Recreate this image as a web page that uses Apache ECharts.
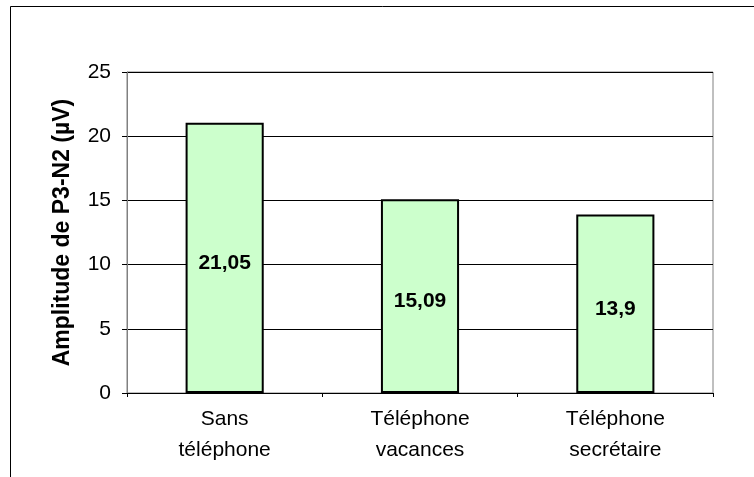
<!DOCTYPE html>
<html><head><meta charset="utf-8">
<script src="https://cdn.jsdelivr.net/npm/echarts@6/dist/echarts.min.js"></script>
<style>html,body{margin:0;padding:0;background:#fff}#c{width:754px;height:477px}</style>
</head><body><div id="c"></div>
<script>
const categories = ['Sans\ntéléphone', 'Téléphone\nvacances', 'Téléphone\nsecrétaire'];
const values = [21.05, 15.09, 13.9];
const yTicks = [0, 5, 10, 15, 20, 25];
const yName = 'Amplitude de P3-N2 (µV)';

const font = 'Liberation Sans, Arial, sans-serif';
const chart = echarts.init(document.getElementById('c'), null, {renderer: 'canvas'});
chart.setOption({
  animation: false,
  backgroundColor: '#fff',
  graphic: [{type: 'rect', shape: {x: 10.5, y: 6.5, width: 800, height: 600}, style: {fill: 'none', stroke: '#000', lineWidth: 1}, z: -1}],
  grid: {left: 127, top: 72, right: 41, bottom: 84, show: true, borderColor: '#808080', borderWidth: 1, backgroundColor: 'transparent'},
  xAxis: {
    type: 'category', data: categories,
    axisLine: {lineStyle: {color: '#000', width: 1}},
    axisTick: {show: true, length: 4, lineStyle: {color: '#000'}},
    axisLabel: {color: '#000', fontFamily: font, fontSize: 21, lineHeight: 31, margin: 11},
    splitLine: {show: false}
  },
  yAxis: {
    type: 'value', min: yTicks[0], max: yTicks[yTicks.length - 1], interval: 5,
    name: yName, nameLocation: 'middle', nameGap: 53,
    nameTextStyle: {color: '#000', fontFamily: font, fontSize: 23, fontWeight: 'bold'},
    axisLine: {show: true, lineStyle: {color: '#808080', width: 1}},
    axisTick: {show: true, length: 5, lineStyle: {color: '#000'}},
    axisLabel: {color: '#000', fontFamily: font, fontSize: 21, margin: 16},
    splitLine: {show: true, lineStyle: {color: '#000', width: 1}}
  },
  series: [{
    type: 'bar', data: values, barWidth: '40%',
    itemStyle: {color: '#CCFFCC', borderColor: '#000', borderWidth: 2},
    label: {show: true, position: 'inside', offset: [0, 5], color: '#000', fontFamily: font, fontSize: 21, fontWeight: 'bold',
      formatter: p => String(p.value).replace('.', ',')}
  }]
});
</script></body></html>
